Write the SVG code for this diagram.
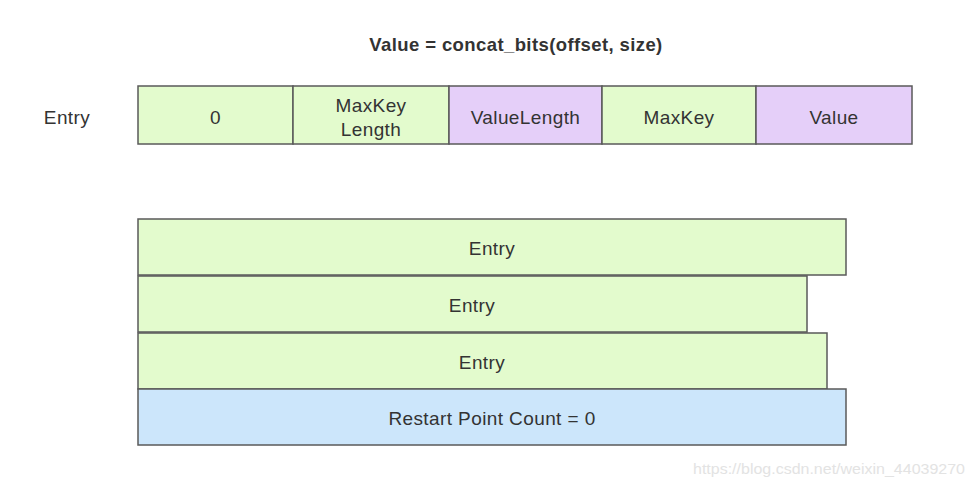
<svg xmlns="http://www.w3.org/2000/svg" width="975" height="487" viewBox="0 0 975 487">
<style>
.b{stroke:#5a5a5a;stroke-width:1.5}
.g{fill:#e3fbcd}
.p{fill:#e5cff9}
.u{fill:#cce6fb}
text{font-family:"Liberation Sans",Arial,sans-serif;font-size:19px;letter-spacing:0.4px;fill:#333;text-anchor:middle;dominant-baseline:central}
</style>
<rect width="975" height="487" fill="#fff"/>
<text x="516" y="44" style="font-weight:bold;font-size:18.5px;letter-spacing:0.4px">Value = concat_bits(offset, size)</text>
<text x="67" y="117">Entry</text>
<g id="f0"><rect class="b g" x="138" y="86" width="155" height="58"/><text x="215.5" y="117">0</text></g>
<g id="f1"><rect class="b g" x="293" y="86" width="156" height="58"/><text x="371" y="105">MaxKey</text><text x="371" y="129">Length</text></g>
<g id="f2"><rect class="b p" x="449" y="86" width="153" height="58"/><text x="525.5" y="117">ValueLength</text></g>
<g id="f3"><rect class="b g" x="602" y="86" width="154" height="58"/><text x="679" y="117">MaxKey</text></g>
<g id="f4"><rect class="b p" x="756" y="86" width="156" height="58"/><text x="834" y="117">Value</text></g>
<g id="e1"><rect class="b g" x="138" y="219" width="708" height="56"/><text x="492" y="248">Entry</text></g>
<g id="e2"><rect class="b g" x="138" y="276" width="669" height="56"/><text x="472" y="305">Entry</text></g>
<g id="e3"><rect class="b g" x="138" y="333" width="689" height="56"/><text x="482" y="362">Entry</text></g>
<g id="rp"><rect class="b u" x="138" y="389" width="708" height="56"/><text x="492" y="418">Restart Point Count = 0</text></g>
<text x="829" y="468" textLength="272" lengthAdjust="spacingAndGlyphs" style="fill:#e3e3e3;font-size:15px;letter-spacing:0">https://blog.csdn.net/weixin_44039270</text>
</svg>
